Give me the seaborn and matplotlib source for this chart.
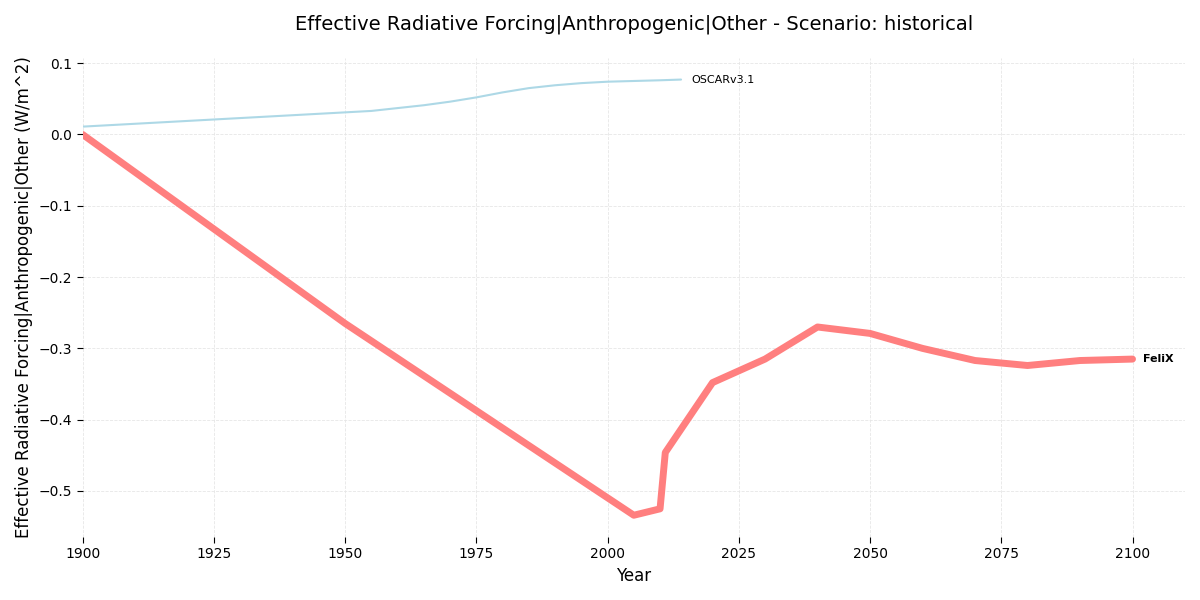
import matplotlib
matplotlib.use("Agg")
import matplotlib.pyplot as plt
import seaborn as sns
import pandas as pd

# ── Data ─────────────────────────────────────────────────────────────────────
felix_years = [1900, 1950, 2005, 2010, 2011, 2020, 2030, 2040, 2050, 2060, 2070, 2080, 2090, 2100]
felix_values = [0.0, -0.265, -0.534, -0.525, -0.446, -0.348, -0.315, -0.270, -0.279, -0.300,
                -0.317, -0.324, -0.317, -0.315]

oscar_years = [1900, 1905, 1910, 1915, 1920, 1925, 1930, 1935, 1940, 1945, 1950, 1955,
               1960, 1965, 1970, 1975, 1980, 1985, 1990, 1995, 2000, 2005, 2010, 2014]
oscar_values = [0.011, 0.013, 0.015, 0.017, 0.019, 0.021, 0.023, 0.025, 0.027, 0.029, 0.031,
                0.033, 0.037, 0.041, 0.046, 0.052, 0.059, 0.065, 0.069, 0.072, 0.074, 0.075,
                0.076, 0.077]

variable = "Effective Radiative Forcing|Anthropogenic|Other"
scenario = "historical"
unit = "W/m^2"

df = pd.concat([
    pd.DataFrame({"Year": oscar_years, "Value": oscar_values, "Model": "OSCARv3.1"}),
    pd.DataFrame({"Year": felix_years, "Value": felix_values, "Model": "FeliX"}),
])

sns.set_style("white", rc={"text.color": "black", "axes.labelcolor": "black",
                           "xtick.color": "black", "ytick.color": "black"})
fig, ax = plt.subplots(figsize=(12, 6), dpi=100)

styles = {
    "OSCARv3.1": dict(color="#add8e6", lw=1.5, weight="normal"),
    "FeliX": dict(color="#ff7f7f", lw=5, weight="bold"),
}

for model, sub in df.groupby("Model", sort=False):
    st = styles[model]
    sns.lineplot(data=sub, x="Year", y="Value", ax=ax, color=st["color"],
                 linewidth=st["lw"], legend=False)
    last = sub.iloc[-1]
    ax.text(last["Year"] + 2, last["Value"], model, fontsize=8,
            fontweight=st["weight"], va="center", ha="left")

ax.set_xlim(1900, 2110)
ax.set_title(f"{variable} - Scenario: {scenario}", fontsize=14, pad=20)
ax.set_xlabel("Year", fontsize=12)
ax.set_ylabel(f"{variable} ({unit})", fontsize=12)
ax.grid(True, linestyle="--", linewidth=0.6, color="#e6e6e6")
ax.tick_params(axis="both", which="both", length=4, left=True, bottom=True, labelsize=10)
sns.despine(ax=ax, left=True, bottom=True)

plt.tight_layout()
plt.savefig("out.png", dpi=100)
